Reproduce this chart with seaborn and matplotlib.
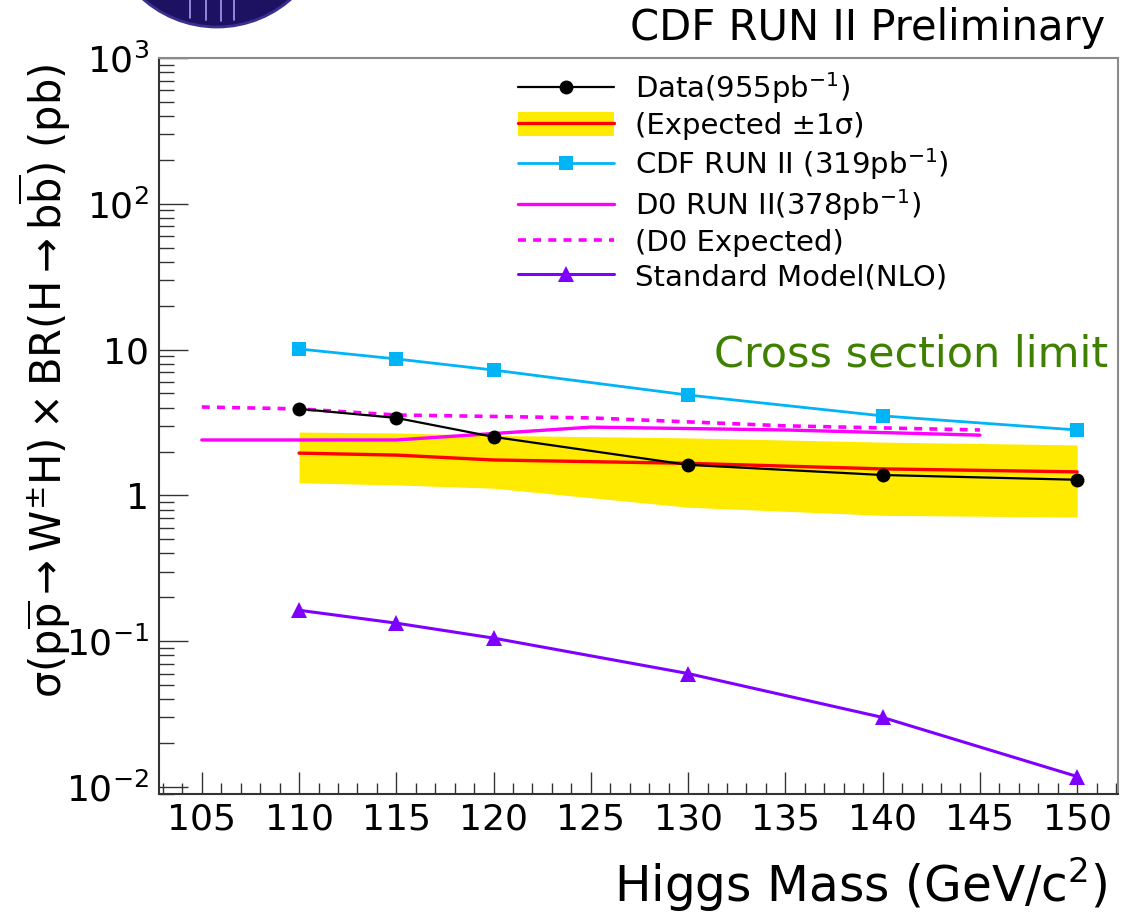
import numpy as np
import pandas as pd
import matplotlib
matplotlib.use("Agg")
import matplotlib.pyplot as plt
import seaborn as sns
from matplotlib.lines import Line2D
from matplotlib.patches import Patch, Ellipse
from matplotlib.ticker import FixedLocator, MultipleLocator, LogLocator, FixedFormatter, NullFormatter

# Higgs mass points (GeV/c^2) and 95% CL limits (pb)
mass = [110, 115, 120, 130, 140, 150]
data_limit = [3.92, 3.40, 2.52, 1.62, 1.38, 1.28]
exp_median = [1.95, 1.89, 1.75, 1.66, 1.52, 1.45]
exp_lo = [1.22, 1.18, 1.12, 0.83, 0.73, 0.71]
exp_hi = [2.72, 2.68, 2.58, 2.48, 2.32, 2.22]
cdf319 = [10.1, 8.63, 7.24, 4.88, 3.51, 2.81]
sm_nlo = [0.163, 0.133, 0.105, 0.060, 0.030, 0.0118]

d0_mass = [105, 110, 115, 125, 135, 145]
d0_obs = [2.40, 2.40, 2.40, 2.94, 2.81, 2.59]
d0_exp = [4.04, 3.92, 3.56, 3.40, 3.00, 2.81]

y_ticks = [1e-2, 1e-1, 1, 10, 1e2, 1e3]
y_tick_labels = [r"$10^{-2}$", r"$10^{-1}$", "1", "10", r"$10^{2}$", r"$10^{3}$"]
x_ticks = [105, 110, 115, 120, 125, 130, 135, 140, 145, 150]

legend_labels = [
    r"Data(955pb$^{-1}$)",
    "(Expected \u00b11\u03c3)",
    r"CDF RUN II (319pb$^{-1}$)",
    r"D0 RUN II(378pb$^{-1}$)",
    "(D0 Expected)",
    "Standard Model(NLO)",
]

C_DATA = "black"
C_BAND = "#ffeb00"
C_EXP = "#ff0000"
C_CDF = "#00b4f5"
C_D0 = "#ff00ff"
C_SM = "#8000ff"

sns.set_theme(style="white", rc={
    "text.color": "black", "axes.labelcolor": "black",
    "xtick.color": "black", "ytick.color": "black",
    "xtick.bottom": True, "ytick.left": True,
})
plt.rcParams["font.family"] = ["DejaVu Sans"]
plt.rcParams["mathtext.fontset"] = "dejavusans"

W, H = 1124, 914
fig = plt.figure(figsize=(W / 100, H / 100), dpi=100)
ax = fig.add_axes([159 / W, 1 - 794 / H, (1118 - 159) / W, (794 - 58) / H])

df = pd.DataFrame({"mass": mass, "data": data_limit, "exp": exp_median,
                   "lo": exp_lo, "hi": exp_hi, "cdf": cdf319, "sm": sm_nlo})
d0 = pd.DataFrame({"mass": d0_mass, "obs": d0_obs, "exp": d0_exp})

ax.fill_between(df["mass"], df["lo"], df["hi"], color=C_BAND, lw=0, zorder=1)
sns.lineplot(data=df, x="mass", y="exp", ax=ax, color=C_EXP, lw=2.4, zorder=3, legend=False)
sns.lineplot(data=d0, x="mass", y="exp", ax=ax, color=C_D0, lw=2.6, zorder=2,
             linestyle=(0, (2.2, 2.0)), legend=False)
sns.lineplot(data=d0, x="mass", y="obs", ax=ax, color=C_D0, lw=2.4, zorder=2, legend=False)
sns.lineplot(data=df, x="mass", y="cdf", ax=ax, color=C_CDF, lw=2.0, marker="s",
             markersize=10, markeredgewidth=0, zorder=4, legend=False)
sns.lineplot(data=df, x="mass", y="data", ax=ax, color=C_DATA, lw=1.6, marker="o",
             markersize=10, markeredgewidth=0, zorder=5, legend=False)
sns.lineplot(data=df, x="mass", y="sm", ax=ax, color=C_SM, lw=2.2, marker="^",
             markersize=11, markeredgewidth=0, zorder=4, legend=False)

ax.set_yscale("log")
ax.set_xlim(102.8, 152.1)
ax.set_ylim(10 ** -2.048, 1e3)

ax.yaxis.set_major_locator(FixedLocator(y_ticks))
ax.yaxis.set_major_formatter(FixedFormatter(y_tick_labels))
ax.yaxis.set_minor_locator(LogLocator(base=10, subs=np.arange(2, 10)))
ax.yaxis.set_minor_formatter(NullFormatter())
ax.xaxis.set_major_locator(FixedLocator(x_ticks))
ax.xaxis.set_minor_locator(MultipleLocator(1))

ax.tick_params(axis="both", which="both", direction="in", colors="#333333",
               labelcolor="black", width=1.0, bottom=True, left=True, top=False, right=False)
ax.tick_params(axis="y", which="major", length=21, labelsize=26, pad=7)
ax.tick_params(axis="y", which="minor", length=11)
ax.tick_params(axis="x", which="major", length=16, labelsize=26, pad=6)
ax.tick_params(axis="x", which="minor", length=8)

for side in ["left", "bottom"]:
    ax.spines[side].set_color("#333333")
    ax.spines[side].set_linewidth(1.5)
for side in ["top", "right"]:
    ax.spines[side].set_color("#8a8a8a")
    ax.spines[side].set_linewidth(1.5)

ax.set_xlabel(r"Higgs Mass (GeV/c$^{2}$)", fontsize=35, ha="right", va="center")
ax.xaxis.set_label_coords((1108 - 159) / 959, (794 - 885) / 736)
ax.set_ylabel("\u03c3" + r"$(\mathrm{p}\overline{\mathrm{p}}\rightarrow \mathrm{W}^{\pm}\mathrm{H})"
              r"\times \mathrm{BR}(\mathrm{H}\rightarrow \mathrm{b}\overline{\mathrm{b}})$ (pb)",
              fontsize=30, ha="center", va="center")
ax.yaxis.set_label_coords((45 - 159) / 959, (794 - 381) / 736)

ax.text((1108 - 159) / 959, (794 - 355) / 736, "Cross section limit", transform=ax.transAxes,
        ha="right", va="center", fontsize=31, color="#3f8000")

# legend
handles = [
    Line2D([], [], color=C_DATA, lw=1.6, marker="o", markersize=10, markeredgewidth=0),
    (Patch(facecolor=C_BAND, edgecolor="none"), Line2D([], [], color=C_EXP, lw=2.4)),
    Line2D([], [], color=C_CDF, lw=2.0, marker="s", markersize=10, markeredgewidth=0),
    Line2D([], [], color=C_D0, lw=2.4),
    Line2D([], [], color=C_D0, lw=2.6, linestyle=(0, (2.2, 2.0))),
    Line2D([], [], color=C_SM, lw=2.2, marker="^", markersize=11, markeredgewidth=0),
]
leg = ax.legend(handles, legend_labels, loc="upper left",
                bbox_to_anchor=((518 - 159) / 959, (794 - 70) / 736),
                frameon=False, fontsize=21, handlelength=3.3, handleheight=0.9,
                handletextpad=0.72, labelspacing=0.2, borderpad=0, borderaxespad=0)

fig.text(1105 / W, 1 - 28 / H, "CDF RUN II Preliminary", ha="right", va="center", fontsize=30)

# experiment emblem, cut by the top edge of the figure
cx, cy, r = 217, -85, 112
logo = Ellipse((cx / W, 1 - cy / H), 2 * r / W, 2 * r / H, transform=fig.transFigure,
               facecolor="#1d1262", edgecolor="#3a3090", lw=2, zorder=10)
fig.add_artist(logo)
for xs in [190, 206, 221, 234]:
    half = np.sqrt(max(r ** 2 - (xs - cx) ** 2, 0))
    bot = cy + half - 6
    fig.add_artist(Line2D([xs / W, xs / W], [1.0, 1 - bot / H], transform=fig.transFigure,
                          color="#a49cf0", lw=1.2, zorder=11))
t = np.linspace(np.pi * 0.08, np.pi * 0.92, 60)
arc_x = cx + (r - 30) * np.cos(t)
arc_y = cy + (r - 30) * np.sin(t)
fig.add_artist(Line2D(arc_x / W, 1 - arc_y / H, transform=fig.transFigure,
                      color="#a49cf0", lw=1.2, zorder=11))

fig.savefig("out.png", dpi=100)
